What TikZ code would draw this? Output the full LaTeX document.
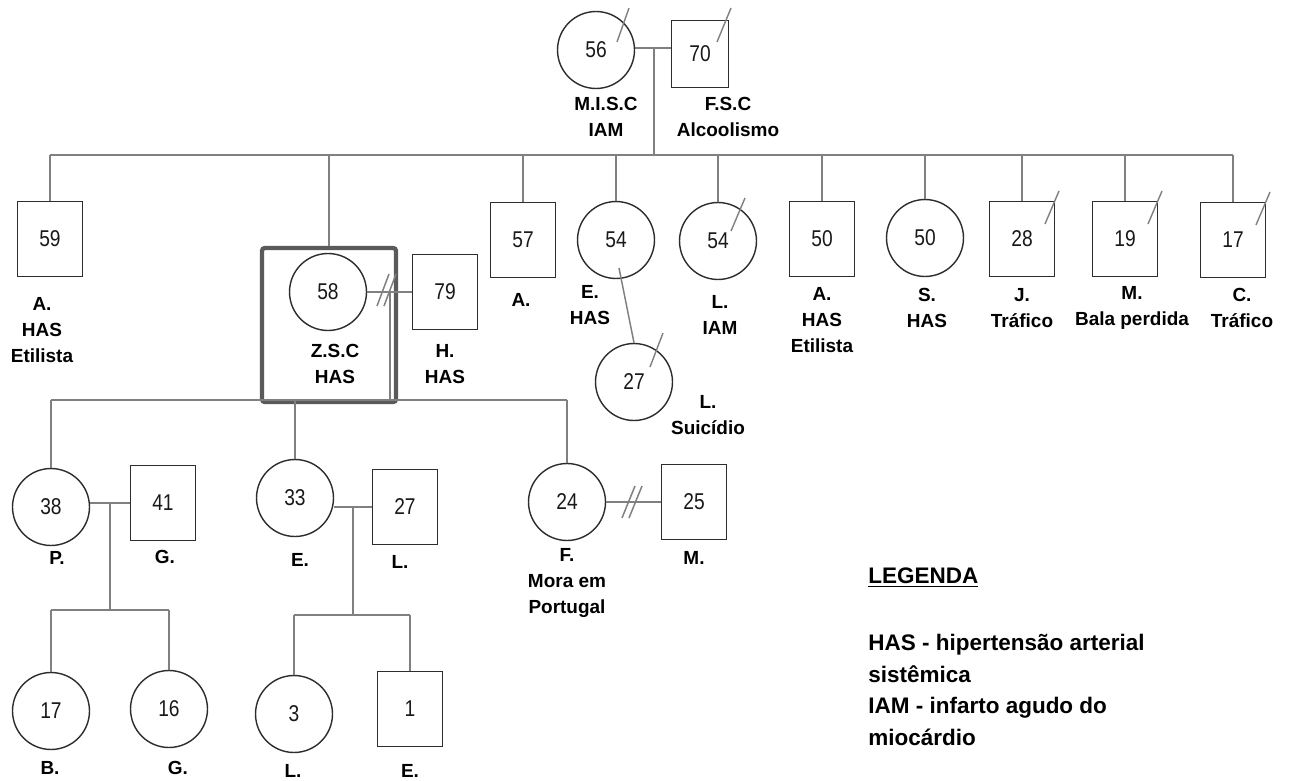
\documentclass[tikz,border=0pt]{standalone}
\usepackage{fontspec}
\setmainfont{Liberation Sans}
\newfontfamily\numerofont[FakeStretch=0.84]{Liberation Sans}
\usepackage{tikz}
\usetikzlibrary{positioning}
\definecolor{LinhaCinza}{RGB}{128,128,128}
\definecolor{Contorno}{RGB}{45,45,45}
\definecolor{Destaque}{RGB}{90,90,90}
\tikzset{
  homem/.style={draw=Contorno, line width=0.8pt, rectangle, minimum width=1.3cm, minimum height=1.5cm,
    inner sep=0pt, font=\numerofont\fontsize{13}{14}\selectfont, text=black!90},
  mulher/.style={draw=Contorno, line width=0.8pt, circle, minimum size=1.54cm,
    inner sep=0pt, font=\numerofont\fontsize{13}{14}\selectfont, text=black!90},
  destaque/.style={draw=Destaque, line width=2.4pt, rounded corners=1.5pt, minimum width=2.68cm,
    minimum height=3.08cm, inner sep=0pt},
  rotulo/.style={font=\fontsize{10.8}{15}\selectfont\bfseries, align=center, inner sep=0pt},
  legtxt/.style={font=\fontsize{12.8}{17.9}\selectfont\bfseries, align=left, inner sep=0pt, anchor=west},
  rel/.style={draw=LinhaCinza, line width=0.85pt},
  obito/.style={draw=LinhaCinza, line width=0.8pt},
}

\begin{document}
\begin{tikzpicture}[x=0.02cm, y=-0.02cm]
  \useasboundingbox (0,0) rectangle (1289,781);
  % avos
  \node[mulher] (v56) at (596,50) {56};
  \node[homem, minimum width=1.14cm, minimum height=1.34cm] (v70) at (700,54) {70};
  \node[rotulo] (r56) at (606,117) {M.I.S.C\\IAM};
  \node[rotulo] (r70) at (728,117) {F.S.C\\Alcoolismo};
  \coordinate (cas1) at (654,48);
  \coordinate (irm1) at (0,155);
  \draw[rel] (v56.east |- cas1) -- (v70.west |- cas1);
  \draw[rel] (cas1) -- (cas1 |- irm1);
  % filhos
  \node[homem] (f59) at (50,239) {59};
  \node[destaque] (zsc) at (329,325) {};
  \node[mulher] (f58) at (328,292) {58};
  \node[homem] (h79) at (445,292) {79};
  \node[homem] (f57) at (523,240) {57};
  \node[mulher] (f54a) at (616,240) {54};
  \node[mulher] (f54b) at (718,241) {54};
  \node[homem] (f50a) at (822,239) {50};
  \node[mulher] (f50b) at (925,238) {50};
  \node[homem] (f28) at (1022,239) {28};
  \node[homem] (f19) at (1125,239) {19};
  \node[homem] (f17) at (1233,240) {17};
  \draw[rel] (f59.north |- irm1) -- (f17.north |- irm1);
  \foreach \f in {f59,zsc,f57,f54a,f54b,f50a,f50b,f28,f19,f17}
    \draw[rel] (\f.north) -- (\f.north |- irm1);
  \node[rotulo] (r59) at (42,330) {A.\\HAS\\Etilista};
  \node[rotulo] (r58) at (335,364) {Z.S.C\\HAS};
  \node[rotulo] (r79) at (445,364) {H.\\HAS};
  \node[rotulo] (r57) at (521,300) {A.};
  \node[rotulo] (r54a) at (590,305) {E.\\HAS};
  \node[rotulo] (r54b) at (720,315) {L.\\IAM};
  \node[rotulo] (r50a) at (822,320) {A.\\HAS\\Etilista};
  \node[rotulo] (r50b) at (927,308) {S.\\HAS};
  \node[rotulo] (r28) at (1022,308) {J.\\Tráfico};
  \node[rotulo] (r19) at (1132,308) {M.\\Bala perdida};
  \node[rotulo] (r17) at (1242,308) {C.\\Tráfico};
  % casal Z.S.C / H.
  \coordinate (cas2) at (390,292);
  \coordinate (irm2) at (0,400);
  \draw[rel] (f58.east) -- (h79.west);
  \draw[rel] (cas2) ++(-13,14) -- ++(12,-32);
  \draw[rel] (cas2) ++(-6,14) -- ++(12,-32);
  \draw[rel] (cas2) -- (cas2 |- irm2);
  % neta de E.
  \node[mulher] (n27) at (634,382) {27};
  \node[rotulo] (r27) at (708,415) {L.\\Suicídio};
  \draw[rel] (f54a.center) ++(3,28) -- (n27.north);
  % netos
  \node[mulher] (n38) at (51,507) {38};
  \node[homem] (n41) at (163,503) {41};
  \node[mulher] (n33) at (295,498) {33};
  \node[homem] (n27b) at (405,507) {27};
  \node[mulher] (n24) at (567,502) {24};
  \node[homem] (n25) at (694,502) {25};
  \draw[rel] (n38.north |- irm2) -- (n24.north |- irm2);
  \foreach \f in {n38,n33,n24}
    \draw[rel] (\f.north) -- (\f.north |- irm2);
  \node[rotulo] (r38) at (57,558) {P.};
  \node[rotulo] (r41) at (165,557) {G.};
  \node[rotulo] (r33) at (300,560) {E.};
  \node[rotulo] (r27b) at (400,562) {L.};
  \node[rotulo] (r24) at (567,583) {F.\\Mora em\\Portugal};
  \node[rotulo] (r25) at (694,558) {M.};
  \coordinate (cas3) at (110,503);
  \coordinate (irm3) at (0,610);
  \draw[rel] (n38.east |- cas3) -- (n41.west |- cas3);
  \draw[rel] (cas3) -- (cas3 |- irm3);
  \coordinate (cas4) at (353,507);
  \coordinate (irm4) at (0,615);
  \draw[rel] (n33.east |- cas4) -- (n27b.west |- cas4);
  \draw[rel] (cas4) -- (cas4 |- irm4);
  \coordinate (cas5) at (632,502);
  \draw[rel] (n24.east) -- (n25.west);
  \draw[rel] (cas5) ++(-10,16) -- ++(13,-32);
  \draw[rel] (cas5) ++(-3,16) -- ++(13,-32);
  % bisnetos
  \node[mulher] (b17) at (51,711) {17};
  \node[mulher] (b16) at (169,709) {16};
  \node[mulher] (b3) at (294,714) {3};
  \node[homem] (b1) at (410,709) {1};
  \draw[rel] (b17.north |- irm3) -- (b16.north |- irm3);
  \draw[rel] (b3.north |- irm4) -- (b1.north |- irm4);
  \foreach \f/\l in {b17/irm3,b16/irm3,b3/irm4,b1/irm4}
    \draw[rel] (\f.north) -- (\f.north |- \l);
  \node[rotulo] (rb17) at (50,768) {B.};
  \node[rotulo] (rb16) at (178,768) {G.};
  \node[rotulo] (rb3) at (293,771) {L.};
  \node[rotulo] (rb1) at (410,771) {E.};
  % obitos
  \draw[obito] (v56.center) ++(21,-8) -- ++(12,-34);
  \draw[obito] (v70.center) ++(17,-12) -- ++(14,-34);
  \draw[obito] (f54b.center) ++(13,-10) -- ++(14,-33);
  \draw[obito] (n27.center) ++(16,-15) -- ++(13,-34);
  \foreach \f in {f28,f19,f17}
    \draw[obito] (\f.center) ++(23,-15) -- ++(14,-33);
  % legenda
  \node[legtxt] (leg) at (868,578) {\underline{LEGENDA}};
  \node[legtxt] (legtexto) at (868,690) {HAS - hipertensão arterial\\sistêmica\\IAM - infarto agudo do\\miocárdio};
\end{tikzpicture}
\end{document}
